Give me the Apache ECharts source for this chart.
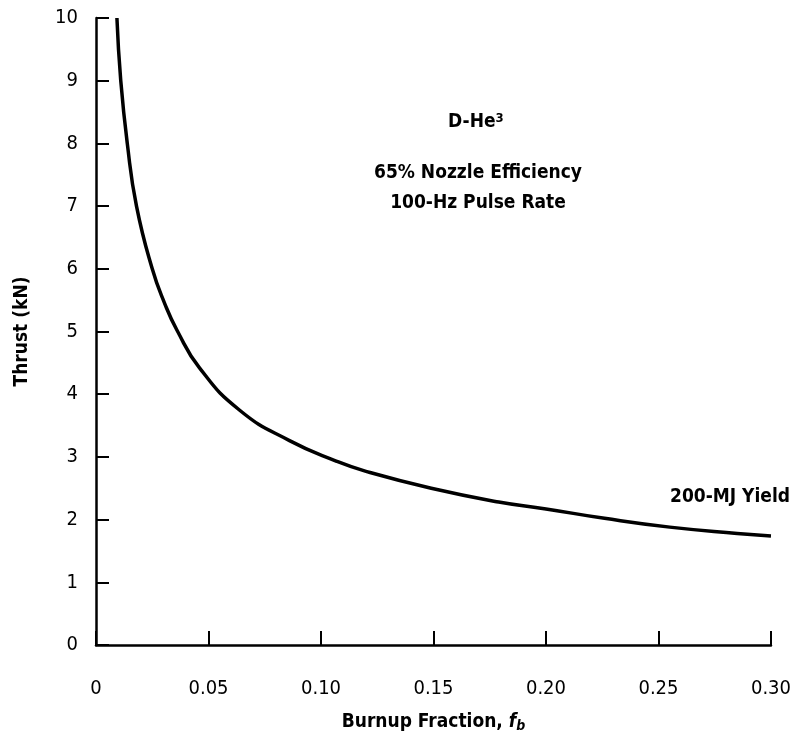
<!DOCTYPE html>
<html>
<head>
<meta charset="utf-8">
<script src="https://cdn.jsdelivr.net/npm/echarts@6/dist/echarts.min.js"></script>
<style>
html,body{margin:0;padding:0;background:#fff;}
#chart{width:794px;height:746px;}
</style>
</head>
<body>
<div id="chart"></div>
<script>
// Burnup fraction (x) and thrust in kN (y)
var burnup = [0.0093, 0.011, 0.0139, 0.018, 0.025, 0.0305, 0.036, 0.046, 0.064, 0.086, 0.107, 0.12, 0.149, 0.179, 0.2, 0.226, 0.255, 0.285, 0.30];
var thrust = [10.0, 9.0, 8.0, 7.0, 6.0, 5.45, 5.02, 4.42, 3.74, 3.26, 2.93, 2.77, 2.50, 2.28, 2.17, 2.02, 1.88, 1.78, 1.74];
var xTicks = ["0", "0.05", "0.10", "0.15", "0.20", "0.25", "0.30"];
var yTicks = ["0", "1", "2", "3", "4", "5", "6", "7", "8", "9", "10"];
var annotations = ["65% Nozzle Efficiency", "100-Hz Pulse Rate"];
var curveLabel = "200-MJ Yield";

var FONT = '"Liberation Sans Narrow", "DejaVu Sans Condensed", "Liberation Sans", sans-serif';
var pts = burnup.map(function (b, i) { return [b, thrust[i]]; });

var chart = echarts.init(document.getElementById('chart'));
chart.setOption({
  backgroundColor: '#fff',
  animation: false,
  grid: { left: 96, right: 19, top: 18, bottom: 101, containLabel: false },
  xAxis: {
    type: 'value', min: 0, max: 0.3, interval: 0.05,
    axisLine: { show: true, lineStyle: { color: '#000', width: 2.5 } },
    axisTick: { show: true, inside: true, length: 14, lineStyle: { color: '#000', width: 2 } },
    splitLine: { show: false },
    axisLabel: {
      margin: 34, color: '#000', fontSize: 20, fontFamily: FONT,
      formatter: function (v) { return xTicks[Math.round(v / 0.05)]; }
    },
    name: '{n|Burnup Fraction, }{f|f}{s|b}',
    nameLocation: 'middle', nameGap: 66,
    nameTextStyle: {
      rich: {
        n: { fontSize: 19, fontWeight: 'bold', fontFamily: FONT, color: '#000' },
        f: { fontSize: 19, fontWeight: 'bold', fontStyle: 'italic', fontFamily: FONT, color: '#000' },
        s: { fontSize: 14, fontWeight: 'bold', fontStyle: 'italic', fontFamily: FONT, color: '#000', verticalAlign: 'bottom', padding: [8, 0, 0, 0] }
      }
    }
  },
  yAxis: {
    type: 'value', min: 0, max: 10, interval: 1,
    axisLine: { show: true, lineStyle: { color: '#000', width: 2.5 } },
    axisTick: { show: true, inside: true, length: 13, lineStyle: { color: '#000', width: 2 } },
    splitLine: { show: false },
    axisLabel: {
      margin: 18, color: '#000', fontSize: 20, fontFamily: FONT,
      formatter: function (v) { return yTicks[Math.round(v)]; }
    },
    name: 'Thrust (kN)',
    nameLocation: 'middle', nameGap: 64, nameRotate: 90,
    nameTextStyle: { fontSize: 19, fontWeight: 'bold', fontFamily: FONT, color: '#000' }
  },
  series: [{
    type: 'line', data: pts, smooth: 0.5, showSymbol: false,
    lineStyle: { color: '#000', width: 3.5 },
    clip: false
  }],
  graphic: [
    { type: 'text', left: 448, top: 112, style: { text: '{a|D-He}{b|3}', rich: {
      a: { fontSize: 19, fontWeight: 'bold', fontFamily: FONT, fill: '#000' },
      b: { fontSize: 13, fontWeight: 'bold', fontFamily: FONT, fill: '#000', verticalAlign: 'top', padding: [0, 0, 8, 0] }
    } } },
    { type: 'text', x: 478, y: 173, style: { text: annotations[0], fontSize: 19, fontWeight: 'bold', fontFamily: FONT, fill: '#000', align: 'center', verticalAlign: 'middle' } },
    { type: 'text', x: 478, y: 203, style: { text: annotations[1], fontSize: 19, fontWeight: 'bold', fontFamily: FONT, fill: '#000', align: 'center', verticalAlign: 'middle' } },
    { type: 'text', x: 790, y: 497, style: { text: curveLabel, fontSize: 19, fontWeight: 'bold', fontFamily: FONT, fill: '#000', align: 'right', verticalAlign: 'middle' } }
  ]
});
</script>
</body>
</html>
